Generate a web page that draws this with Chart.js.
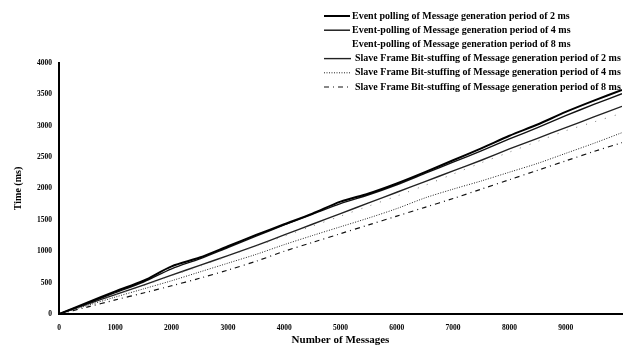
<!DOCTYPE html>
<html>
<head>
<meta charset="utf-8">
<script src="https://cdn.jsdelivr.net/npm/chart.js@4"></script>
<style>
  html, body { margin: 0; padding: 0; background: #fff; }
  #wrap { width: 630px; height: 354px; }
</style>
</head>
<body>
<div id="wrap"><canvas id="timeChart" width="630" height="354"></canvas></div>
<script>
// number of messages (x)
const messages = [0, 500, 1000, 1500, 2000, 2500, 3000, 3500, 4000, 4500, 5000,
  5500, 6000, 6500, 7000, 7500, 8000, 8500, 9000, 9500, 10000];

// time in ms for each series
const eventPoll2 = [0, 180, 360, 530, 760, 900, 1080, 1260, 1430, 1600, 1790,
  1920, 2080, 2260, 2450, 2640, 2840, 3020, 3220, 3400, 3570];
const eventPoll4 = [0, 170, 340, 510, 720, 880, 1060, 1240, 1420, 1590, 1760,
  1900, 2060, 2240, 2420, 2600, 2790, 2970, 3160, 3340, 3510];
const eventPoll8 = [0, 150, 300, 450, 610, 760, 920, 1080, 1240, 1400, 1560,
  1720, 1880, 2050, 2230, 2410, 2580, 2750, 2920, 3060, 3200];
const slave2 = [0, 155, 310, 460, 620, 775, 930, 1090, 1260, 1430, 1600,
  1770, 1940, 2110, 2280, 2450, 2630, 2800, 2970, 3140, 3310];
const slave4 = [0, 135, 270, 400, 530, 670, 810, 950, 1105, 1250, 1390,
  1530, 1680, 1850, 1990, 2120, 2260, 2400, 2560, 2720, 2890];
const slave8 = [0, 110, 225, 335, 450, 570, 700, 840, 1000, 1140, 1280,
  1420, 1560, 1700, 1840, 1990, 2140, 2290, 2440, 2590, 2730];

const seriesNames = [
  "Event polling of Message generation period of 2 ms",
  "Event-polling of Message generation period of 4 ms",
  "Event-polling of Message generation period of 8 ms",
  "Slave Frame Bit-stuffing of Message generation period of 2 ms",
  "Slave Frame Bit-stuffing of Message generation period of 4 ms",
  "Slave Frame Bit-stuffing of Message generation period of 8 ms"
];
const seriesValues = [eventPoll2, eventPoll4, eventPoll8, slave2, slave4, slave8];

const xTicks = [0, 1000, 2000, 3000, 4000, 5000, 6000, 7000, 8000, 9000];
const yTicks = [0, 500, 1000, 1500, 2000, 2500, 3000, 3500, 4000];

const styles = [
  { color: "#000", width: 2, dash: [] },
  { color: "#111", width: 1.4, dash: [] },
  { color: "#777", width: 1, dash: [1, 9] },
  { color: "#222", width: 1.4, dash: [] },
  { color: "#222", width: 1, dash: [1, 1.5] },
  { color: "#111", width: 1.2, dash: [5, 4, 1, 4] }
];

const serif = "'Liberation Serif', 'Times New Roman', serif";

// legend drawn as a column in the top right corner
const columnLegend = {
  id: "columnLegend",
  afterDraw(chart) {
    const ctx = chart.ctx;
    ctx.save();
    ctx.font = "bold 10px " + serif;
    ctx.textBaseline = "middle";
    chart.data.datasets.forEach((ds, i) => {
      const y = 16 + i * 14.2;
      const textX = i < 3 ? 352 : 355;
      ctx.strokeStyle = ds.borderColor;
      ctx.lineWidth = ds.borderWidth;
      ctx.setLineDash(ds.borderDash);
      if (i !== 2) {
        ctx.beginPath();
        ctx.moveTo(324, y);
        ctx.lineTo(i < 3 ? 350 : 351, y);
        ctx.stroke();
      }
      ctx.setLineDash([]);
      ctx.fillStyle = "#000";
      ctx.fillText(ds.label, textX, y);
    });
    ctx.restore();
  }
};

const datasets = seriesNames.map((name, i) => ({
  label: name,
  data: messages.map((m, j) => ({ x: m, y: seriesValues[i][j] })),
  borderColor: styles[i].color,
  borderWidth: styles[i].width,
  borderDash: styles[i].dash,
  pointRadius: 0,
  tension: 0.3,
  fill: false
}));

new Chart(document.getElementById("timeChart"), {
  type: "line",
  data: { datasets },
  options: {
    responsive: false,
    animation: false,
    layout: { padding: { top: 63, right: 8, left: 4, bottom: 0 } },
    plugins: { legend: { display: false }, tooltip: { enabled: false } },
    scales: {
      x: {
        type: "linear",
        min: 0,
        max: 10000,
        afterBuildTicks: (s) => { s.ticks = xTicks.map(v => ({ value: v })); },
        grid: { display: false, drawTicks: false },
        border: { color: "#000", width: 2 },
        ticks: {
          color: "#000",
          padding: 10,
          maxRotation: 0,
          callback: (v) => String(v),
          font: { family: serif, size: 7.5, weight: "bold" }
        },
        title: {
          display: true,
          text: "Number of Messages",
          color: "#000",
          padding: { top: 0, bottom: 7 },
          font: { family: serif, size: 11, weight: "bold" }
        },
        afterFit: (s) => { s.height = 40; }
      },
      y: {
        min: 0,
        max: 4000,
        afterBuildTicks: (s) => { s.ticks = yTicks.map(v => ({ value: v })); },
        grid: { display: false, drawTicks: false },
        border: { color: "#000", width: 2 },
        ticks: {
          color: "#000",
          padding: 7,
          callback: (v) => String(v),
          font: { family: serif, size: 7.5, weight: "bold" }
        },
        title: {
          display: true,
          text: "Time (ms)",
          color: "#000",
          padding: { top: 8, bottom: 0 },
          font: { family: serif, size: 10, weight: "bold" }
        },
        afterFit: (s) => { s.width = 55; }
      }
    }
  },
  plugins: [columnLegend]
});
</script>
</body>
</html>
